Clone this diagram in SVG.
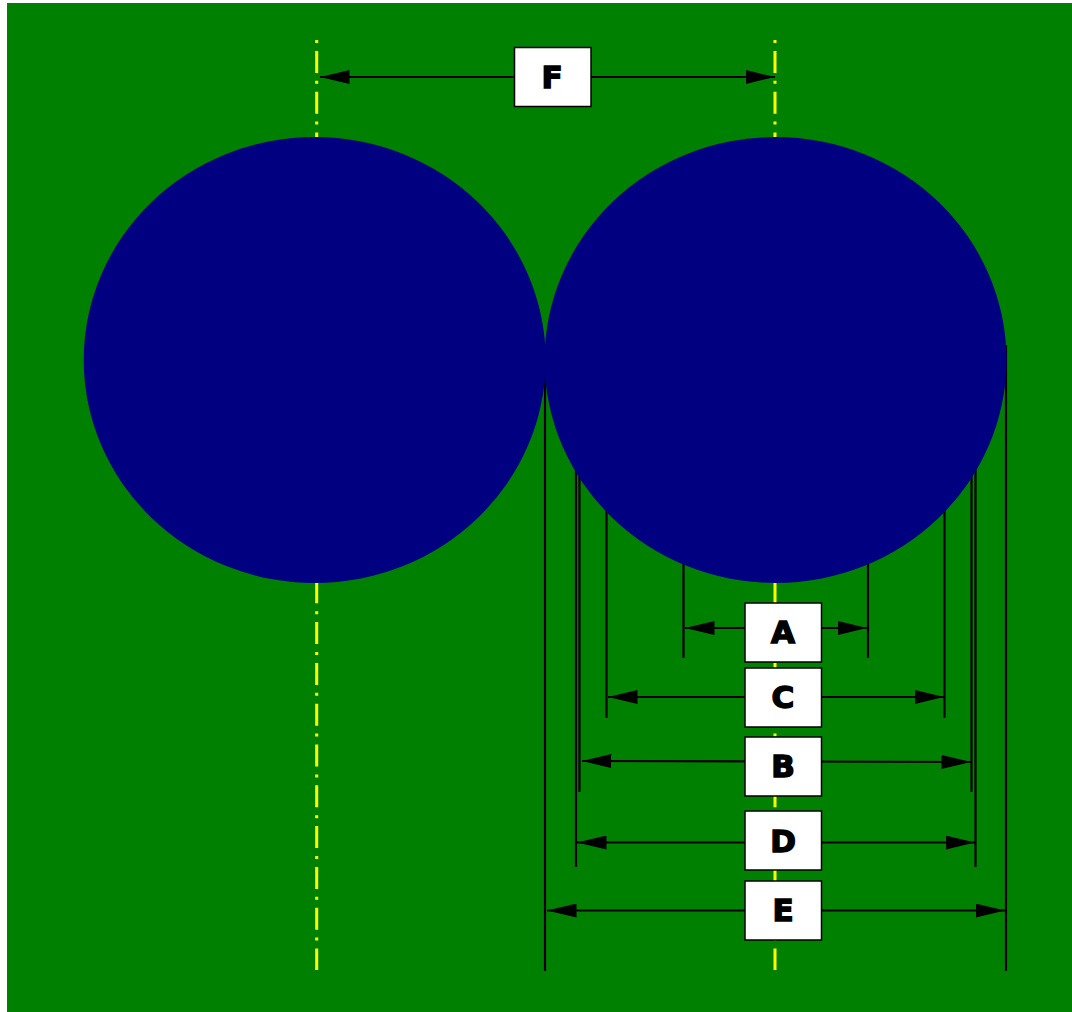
<svg xmlns="http://www.w3.org/2000/svg" width="1072" height="1012" viewBox="0 0 1072 1012">
<style>
.axis{stroke:#ffff00;stroke-width:3;stroke-dasharray:3 7.9 22 7.9;fill:none}
.ext{stroke:#000;stroke-width:2.2;fill:none}
.dim{stroke:#000;stroke-width:2.2;fill:none;marker-end:url(#head)}
.circle{fill:#000080}
.box{fill:#fff;stroke:#000;stroke-width:1.5}
.lbl{font-family:"DejaVu Sans",sans-serif;font-weight:700;font-size:31px;fill:#000;text-anchor:middle;stroke:#000;stroke-width:1.5}
</style>
<defs>
<marker id="head" markerUnits="userSpaceOnUse" markerWidth="30" markerHeight="14" refX="29.5" refY="7" orient="auto"><path d="M0 0L29.5 7L0 14Z" fill="#000"/></marker>
</defs>
<rect width="1072" height="1012" fill="#fff"/>
<rect x="7" y="3" width="1065" height="1009" fill="#008000"/>
<g id="axes">
<line class="axis" x1="316.7" y1="40" x2="316.7" y2="970"/>
<line class="axis" x1="775" y1="40" x2="775" y2="970"/>
</g>
<g id="connectors">
<line class="ext" x1="683.5" y1="500" x2="683.5" y2="658"/>
<line class="ext" x1="868" y1="500" x2="868" y2="658"/>
<line class="ext" x1="606.5" y1="480" x2="606.5" y2="718"/>
<line class="ext" x1="944.5" y1="480" x2="944.5" y2="718"/>
<line class="ext" x1="579.5" y1="450" x2="579.5" y2="792"/>
<line class="ext" x1="971.5" y1="450" x2="971.5" y2="792"/>
<line class="ext" x1="576" y1="450" x2="576" y2="867"/>
<line class="ext" x1="975.5" y1="450" x2="975.5" y2="867"/>
<line class="ext" x1="545" y1="345" x2="545" y2="971"/>
<line class="ext" x1="1006" y1="345" x2="1006" y2="971"/>
<line class="dim" x1="552" y1="77" x2="320" y2="77"/>
<line class="dim" x1="552" y1="77" x2="775" y2="77"/>
<line class="dim" x1="783" y1="628" x2="685" y2="628"/>
<line class="dim" x1="783" y1="628" x2="867" y2="628"/>
<line class="dim" x1="783" y1="697" x2="608" y2="697"/>
<line class="dim" x1="783" y1="697" x2="944" y2="697"/>
<line class="dim" x1="783" y1="761.5" x2="582" y2="761"/>
<line class="dim" x1="783" y1="761.5" x2="971" y2="762"/>
<line class="dim" x1="783" y1="842.5" x2="577" y2="842.5"/>
<line class="dim" x1="783" y1="842.5" x2="975" y2="842.5"/>
<line class="dim" x1="783" y1="910.5" x2="547" y2="910.5"/>
<line class="dim" x1="783" y1="910.5" x2="1005" y2="910.5"/>
</g>
<g id="circle-left"><ellipse class="circle" cx="314.7" cy="360" rx="231" ry="223"/></g>
<g id="circle-right"><ellipse class="circle" cx="775.5" cy="360" rx="231" ry="223"/></g>
<g id="box-F"><rect class="box" x="514.5" y="47.5" width="76.5" height="59"/><text class="lbl" x="552" y="88">F</text></g>
<g id="box-A"><rect class="box" x="745" y="603" width="76.5" height="59"/><text class="lbl" x="783" y="643">A</text></g>
<g id="box-C"><rect class="box" x="745" y="668" width="76.5" height="59"/><text class="lbl" x="783" y="708">C</text></g>
<g id="box-B"><rect class="box" x="745" y="737" width="76.5" height="59"/><text class="lbl" x="783" y="777">B</text></g>
<g id="box-D"><rect class="box" x="745" y="811" width="76.5" height="59"/><text class="lbl" x="783" y="852">D</text></g>
<g id="box-E"><rect class="box" x="745" y="881" width="76.5" height="59"/><text class="lbl" x="783" y="921">E</text></g>
</svg>
